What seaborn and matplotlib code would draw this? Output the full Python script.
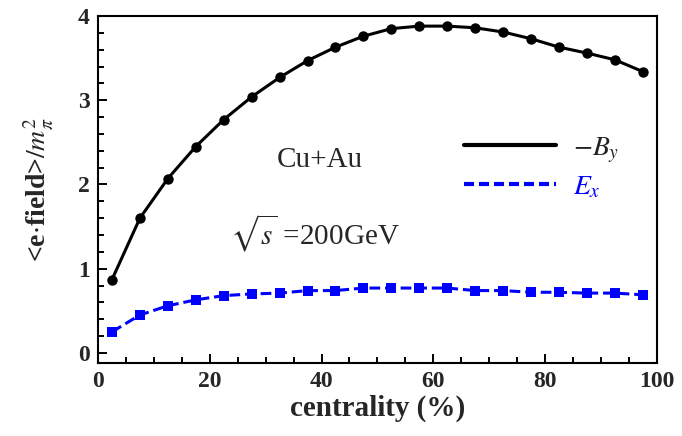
import numpy as np
import pandas as pd
import seaborn as sns
import matplotlib
matplotlib.use("Agg")
import matplotlib.pyplot as plt
from matplotlib.lines import Line2D
from matplotlib.ticker import MultipleLocator

# centrality bin centres (%)
centrality = [2.5, 7.5, 12.5, 17.5, 22.5, 27.5, 32.5, 37.5, 42.5, 47.5,
              52.5, 57.5, 62.5, 67.5, 72.5, 77.5, 82.5, 87.5, 92.5, 97.5]
# <-B_y>/m_pi^2
neg_By = [0.87, 1.60, 2.07, 2.45, 2.77, 3.04, 3.27, 3.47, 3.63, 3.76,
          3.85, 3.88, 3.88, 3.86, 3.81, 3.73, 3.63, 3.56, 3.48, 3.34]
# <E_x>/m_pi^2
Ex = [0.25, 0.45, 0.56, 0.63, 0.68, 0.70, 0.71, 0.74, 0.74, 0.77,
      0.77, 0.77, 0.77, 0.74, 0.74, 0.72, 0.72, 0.71, 0.71, 0.69]

sns.set_theme(style="ticks")
plt.rcParams["font.family"] = ["Liberation Serif", "DejaVu Serif"]
plt.rcParams["mathtext.fontset"] = "stix"

df = pd.DataFrame({"centrality": centrality, "By": neg_By, "Ex": Ex})

fig = plt.figure(figsize=(6.82, 4.36), dpi=100)
ax = fig.add_axes([0.1437, 0.1674, 0.8193, 0.7959])

sns.lineplot(data=df, x="centrality", y="By", ax=ax, color="black",
             linewidth=2.2, marker="o", markersize=7.5, markeredgewidth=0)
sns.lineplot(data=df, x="centrality", y="Ex", ax=ax, color="#0000ff",
             linewidth=2.2, linestyle=(0, (3.5, 1.6)), marker="s",
             markersize=6.5, markeredgewidth=0)

ax.set_xlim(0, 100)
ax.set_ylim(-0.12, 4.0)
ax.xaxis.set_major_locator(MultipleLocator(20))
ax.xaxis.set_minor_locator(MultipleLocator(5))
ax.yaxis.set_major_locator(MultipleLocator(1))
ax.yaxis.set_minor_locator(MultipleLocator(0.2))
ax.tick_params(which="both", direction="in", top=False, right=False,
               color="black", width=1.4)
ax.tick_params(which="major", length=6.5, labelsize=17, pad=6)
ax.tick_params(which="minor", length=4)
for lab in ax.get_xticklabels() + ax.get_yticklabels():
    lab.set_fontweight("bold")
for sp in ax.spines.values():
    sp.set_linewidth(1.5)
    sp.set_color("black")

ax.set_xlabel("centrality (%)", fontsize=21, fontweight="bold", labelpad=2)
ax.set_ylabel(r"<e$\cdot$field>/$m_\pi^2$", fontsize=20, fontweight="bold")
ax.yaxis.set_label_coords(-0.075, 0.5)

ax.text(39.7, 2.29, "Cu+Au", fontsize=21, ha="center", va="center")
ax.text(38.8, 1.42, r"$\sqrt{s}$ =200GeV", fontsize=21, ha="center",
        va="center")

handles = [Line2D([], [], color="black", linewidth=3.0),
           Line2D([], [], color="#0000ff", linewidth=3.0,
                  linestyle=(0, (2.4, 1.2)))]
leg = ax.legend(handles, [r"$-B_y$", r"$E_x$"], loc="upper left",
                bbox_to_anchor=(0.636, 0.688), frameon=False, fontsize=20,
                handlelength=3.3, handletextpad=0.6, labelspacing=0.35,
                borderaxespad=0)
leg.get_texts()[0].set_color("#222222")
leg.get_texts()[1].set_color("#0000ff")

fig.savefig("out.png", dpi=100)
